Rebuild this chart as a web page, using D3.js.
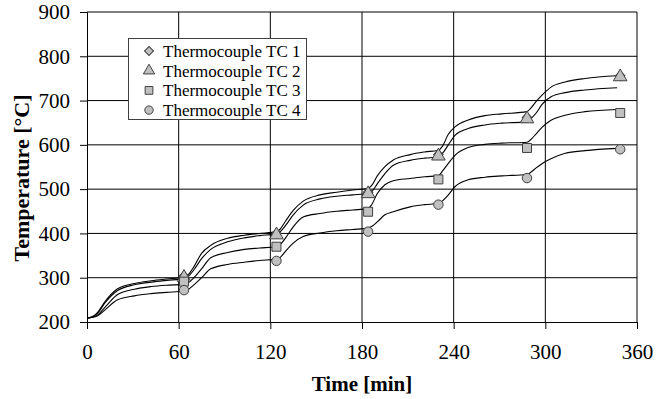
<!DOCTYPE html>
<html>
<head>
<meta charset="utf-8">
<script src="https://cdn.jsdelivr.net/npm/d3@7"></script>
<style>
  body { margin: 0; background: #fff; }
  svg { display: block; }
</style>
</head>
<body>
<div id="chart"></div>
<script>
// fitted curves (shared time samples, min)
const curveTimes = [0, 3, 7, 12, 20, 31, 42, 52, 63.5,
  66, 70, 75, 81, 92, 103, 113, 124,
  126.5, 130, 135, 141.5, 152.5, 163.5, 174, 184,
  186.5, 190, 195, 200.5, 211.5, 221, 230,
  232.5, 236.5, 241, 249.5, 260.5, 271.5, 288,
  290.5, 294, 298, 304, 313, 326, 347];
const curveTC1 = [209, 211, 222, 247, 275, 287, 293, 297, 301,
  306, 325, 355, 373, 389, 396, 400, 404,
  410, 428, 452, 473, 487, 493, 498, 502,
  509, 530, 551, 566, 578, 584, 588,
  596, 624, 641, 656, 666, 670, 675,
  683, 698, 713, 731, 742, 750, 756];
const curveTC2 = [209, 211, 220, 244, 271, 284, 290, 294, 298,
  302, 318, 343, 364, 381, 390, 395, 399,
  404, 418, 442, 464, 478, 484, 487, 490,
  495, 512, 535, 554, 565, 570, 573,
  580, 600, 622, 637, 645, 649, 652,
  659, 672, 692, 709, 718, 724, 729];
const curveTC3 = [209, 210, 216, 234, 262, 274, 280, 283, 285,
  288, 300, 320, 345, 357, 364, 367, 370,
  375, 390, 415, 437, 445, 450, 453, 456,
  466, 490, 510, 519, 524, 528, 530,
  540, 558, 577, 594, 601, 604, 606,
  612, 625, 640, 656, 667, 675, 680];
const curveTC4 = [209, 210, 214, 228, 250, 259, 264, 267, 270,
  273, 284, 300, 320, 330, 335, 339, 342,
  346, 360, 378, 393, 401, 406, 409, 412,
  416, 426, 442, 449, 460, 465, 468,
  473, 487, 506, 521, 527, 530, 533,
  538, 548, 558, 569, 581, 587, 592];

// measured points
const pointTimes = [63.5, 124, 184, 230, 288, 349];
const pointsTC1 = [304, 400, 493, 578, 662, 756];
const pointsTC2 = [304, 400, 493, 578, 662, 757];
const pointsTC3 = [291, 370, 449, 522, 593, 672];
const pointsTC4 = [272, 338, 404, 465, 525, 590];

const seriesNames = ['Thermocouple TC 1', 'Thermocouple TC 2', 'Thermocouple TC 3', 'Thermocouple TC 4'];
const xTicks = [0, 60, 120, 180, 240, 300, 360];
const yTicks = [200, 300, 400, 500, 600, 700, 800, 900];

const width = 656, height = 399;
const margin = { top: 12, right: 19, bottom: 77, left: 87 };

const svg = d3.select('#chart').append('svg')
  .attr('width', width)
  .attr('height', height);

const x = d3.scaleLinear().domain([0, 360]).range([margin.left, width - margin.right]);
const y = d3.scaleLinear().domain([200, 900]).range([height - margin.bottom, margin.top]);

const serif = 'Liberation Serif, Times New Roman, serif';

// grid
svg.append('g').selectAll('line').data(yTicks.slice(1)).enter().append('line')
  .attr('x1', x(0)).attr('x2', x(360))
  .attr('y1', d => y(d)).attr('y2', d => y(d))
  .attr('stroke', '#000').attr('stroke-width', 1);
svg.append('g').selectAll('line').data(xTicks.slice(1)).enter().append('line')
  .attr('x1', d => x(d)).attr('x2', d => x(d))
  .attr('y1', y(200)).attr('y2', y(900))
  .attr('stroke', '#000').attr('stroke-width', 1);

// axes
const xAxis = svg.append('g')
  .attr('transform', `translate(0,${y(200)})`)
  .call(d3.axisBottom(x).tickValues(xTicks).tickSize(7).tickPadding(15));
const yAxis = svg.append('g')
  .attr('transform', `translate(${x(0)},0)`)
  .call(d3.axisLeft(y).tickValues(yTicks).tickSize(7).tickPadding(10));
[xAxis, yAxis].forEach(a => {
  a.select('.domain').attr('stroke', '#000');
  a.selectAll('.tick line').attr('stroke', '#000');
  a.selectAll('.tick text').attr('fill', '#000')
    .style('font-family', serif).style('font-size', '21px');
});

// curves
const line = d3.line()
  .x((d, i) => x(curveTimes[i]))
  .y(d => y(d))
  .curve(d3.curveMonotoneX);
[curveTC1, curveTC2, curveTC3, curveTC4].forEach(c => {
  svg.append('path').datum(c)
    .attr('d', line)
    .attr('fill', 'none')
    .attr('stroke', '#000')
    .attr('stroke-width', 1.1);
});

// markers (diamond = square turned 45deg)
const symbols = [d3.symbolSquare, d3.symbolTriangle, d3.symbolSquare, d3.symbolCircle];
const rotations = [45, 0, 0, 0];
const sizes = [45, 80, 81, 70];
const pointSets = [pointsTC1, pointsTC2, pointsTC3, pointsTC4];
pointSets.forEach((ps, k) => {
  svg.append('g').selectAll('path').data(ps).enter().append('path')
    .attr('transform', (d, i) => `translate(${x(pointTimes[i])},${y(d) + (k === 1 ? 1.5 : 0)}) rotate(${rotations[k]})`)
    .attr('d', d3.symbol().type(symbols[k]).size(sizes[k]))
    .attr('fill', '#c0c0c0')
    .attr('stroke', '#404040')
    .attr('stroke-width', 1);
});

// legend
const legend = svg.append('g').attr('transform', 'translate(128,38)');
legend.append('rect')
  .attr('x', 0.5).attr('y', 0.5)
  .attr('width', 178).attr('height', 81)
  .attr('fill', '#fff').attr('stroke', '#404040');
const legendSizes = [40, 55, 60, 55];
seriesNames.forEach((name, k) => {
  const row = legend.append('g').attr('transform', `translate(21,${13 + k * 19.7})`);
  row.append('path')
    .attr('transform', `rotate(${rotations[k]})`)
    .attr('d', d3.symbol().type(symbols[k]).size(legendSizes[k]))
    .attr('fill', '#c0c0c0').attr('stroke', '#404040');
  row.append('text')
    .attr('x', 14).attr('y', 6)
    .style('font-family', serif).style('font-size', '17px')
    .text(name);
});

// axis titles
svg.append('text')
  .attr('x', (x(0) + x(360)) / 2).attr('y', 391)
  .attr('text-anchor', 'middle')
  .style('font-family', serif).style('font-size', '21px').style('font-weight', 'bold')
  .text('Time [min]');
svg.append('text')
  .attr('transform', `translate(29,${(y(200) + y(900)) / 2 + 11}) rotate(-90)`)
  .attr('text-anchor', 'middle')
  .style('font-family', serif).style('font-size', '22px').style('font-weight', 'bold')
  .text('Temperature [°C]');
</script>
</body>
</html>
